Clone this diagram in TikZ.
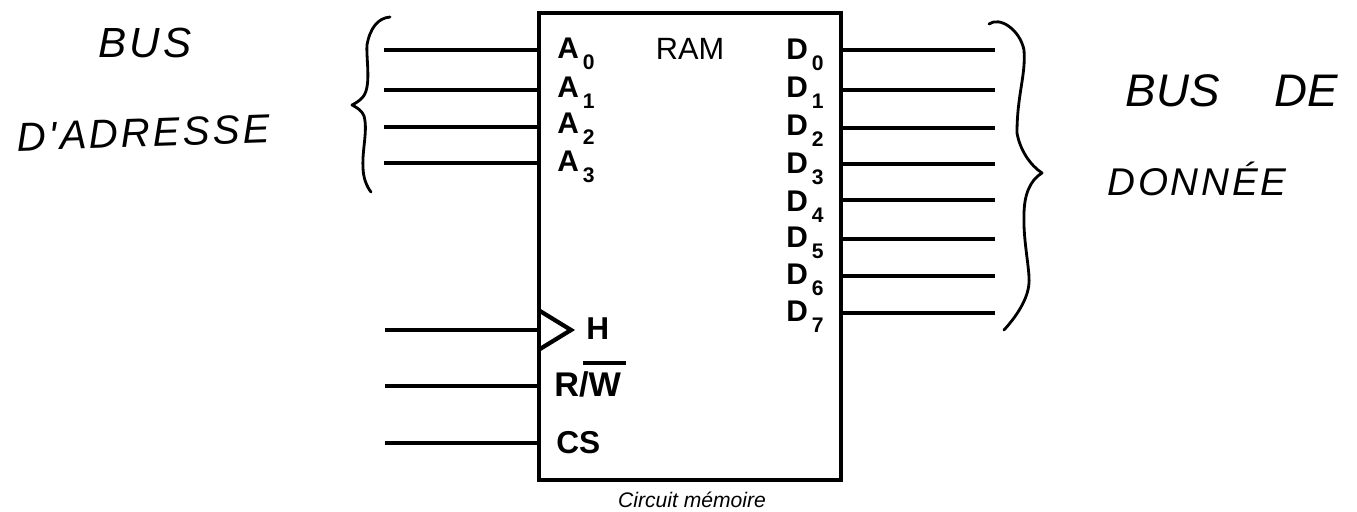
\documentclass[tikz,border=0pt]{standalone}
\usepackage{fontspec}
\setmainfont{Liberation Sans}
\newfontfamily\handfont[LetterSpace=7]{Liberation Sans}
\usepackage{tikz}
\usetikzlibrary{positioning,calc}

\newcommand{\pinsub}[1]{\hspace{2.2pt}\raisebox{-6.8pt}{\fontsize{12}{12}\selectfont #1}}

\tikzset{
  wire/.style={line width=2.8pt},
  thinwire/.style={line width=2pt},
  brace/.style={line width=1.6pt, line cap=round, line join=round},
  pinlabel/.style={anchor=base west, inner sep=0pt, font=\fontsize{17}{18}\selectfont\bfseries},
  ctrllabel/.style={anchor=base west, inner sep=0pt, font=\fontsize{18}{19}\selectfont\bfseries},
  handtext/.style={anchor=base, inner sep=0pt, font=\fontsize{23}{24}\selectfont\handfont\itshape},
}

\begin{document}
\begin{tikzpicture}[x=0.02cm, y=-0.02cm]
  \useasboundingbox (0,0) rectangle (1357,511);

  % Memory box
  \node[draw, line width=2.5pt, minimum width=6.04cm, minimum height=9.34cm, inner sep=0pt] (ram) at (690,246.5) {};
  \node[anchor=base, inner sep=0pt, font=\fontsize{17.5}{18}\selectfont] (title) at (690,59) {RAM};
  \node[anchor=base, inner sep=0pt, font=\fontsize{12}{13}\selectfont\itshape] (caption) at (692,507) {Circuit mémoire};

  % Address pins
  \node[pinlabel] (A0) at (557,58) {A\pinsub{0}};
  \node[pinlabel] (A1) at (557,97) {A\pinsub{1}};
  \node[pinlabel] (A2) at (557,133) {A\pinsub{2}};
  \node[pinlabel] (A3) at (557,171) {A\pinsub{3}};
  \coordinate (a0in) at (384,50);
  \coordinate (a1in) at (384,90);
  \coordinate (a2in) at (384,127);
  \coordinate (a3in) at (384,163);
  \draw[wire] (a0in) -- (a0in -| ram.west);
  \draw[wire] (a1in) -- (a1in -| ram.west);
  \draw[thinwire] (a2in) -- (a2in -| ram.west);
  \draw[thinwire] (a3in) -- (a3in -| ram.west);

  % Data pins
  \node[pinlabel] (D0) at (786,59) {D\pinsub{0}};
  \node[pinlabel] (D1) at (786,97) {D\pinsub{1}};
  \node[pinlabel] (D2) at (786,135) {D\pinsub{2}};
  \node[pinlabel] (D3) at (786,173) {D\pinsub{3}};
  \node[pinlabel] (D4) at (786,211) {D\pinsub{4}};
  \node[pinlabel] (D5) at (786,247) {D\pinsub{5}};
  \node[pinlabel] (D6) at (786,284) {D\pinsub{6}};
  \node[pinlabel] (D7) at (786,321) {D\pinsub{7}};
  \coordinate (d0out) at (995,50);
  \coordinate (d1out) at (995,90);
  \coordinate (d2out) at (995,128);
  \coordinate (d3out) at (995,164);
  \coordinate (d4out) at (995,200);
  \coordinate (d5out) at (995,239);
  \coordinate (d6out) at (995,276);
  \coordinate (d7out) at (995,313);
  \draw[wire] (d0out) -- (d0out -| ram.east);
  \draw[wire] (d1out) -- (d1out -| ram.east);
  \draw[thinwire] (d2out) -- (d2out -| ram.east);
  \draw[thinwire] (d3out) -- (d3out -| ram.east);
  \draw[wire] (d4out) -- (d4out -| ram.east);
  \draw[thinwire] (d5out) -- (d5out -| ram.east);
  \draw[wire] (d6out) -- (d6out -| ram.east);
  \draw[thinwire] (d7out) -- (d7out -| ram.east);

  % Control pins
  \node[ctrllabel] (H) at (586,339) {H};
  \node[ctrllabel, font=\fontsize{19.5}{20}\selectfont\bfseries] (RW) at (554,396) {R/W};
  \node[ctrllabel] (CS) at (556,453) {CS};
  \coordinate (hin) at (385,330);
  \coordinate (rwin) at (385,386);
  \coordinate (csin) at (385,443);
  \draw[wire] (hin) -- (hin -| ram.west);
  \draw[wire] (rwin) -- (rwin -| ram.west);
  \draw[wire] (csin) -- (csin -| ram.west);
  \draw[line width=2.4pt] (540,311) -- (571,330) -- (540,349);
  \draw[line width=2.6pt] (583,363) -- (626,363);

  % Hand drawn braces
  \draw[brace] (390,17) .. controls (378,18) and (370,28) .. (367,45)
    .. controls (366,60) and (372,88) .. (362,98)
    .. controls (359,101) and (356,103) .. (352,105)
    .. controls (358,108) and (362,111) .. (364,116)
    .. controls (368,130) and (362,150) .. (363,167)
    .. controls (363,178) and (367,187) .. (371,192);
  \draw[brace] (989,24) .. controls (1000,16) and (1020,30) .. (1024,50)
    .. controls (1026,75) and (1017,95) .. (1017,133)
    .. controls (1020,150) and (1030,165) .. (1042,173)
    .. controls (1030,180) and (1024,195) .. (1024,215)
    .. controls (1023,240) and (1030,270) .. (1029,283)
    .. controls (1028,300) and (1015,318) .. (1004,330);

  % Hand written labels
  \node[handtext, font=\fontsize{24}{25}\selectfont\handfont\itshape] (busaddr) at (145,57) {BUS};
  \node[handtext, rotate=2] (adresse) at (144,147) {D'ADRESSE};
  \node[handtext, font=\fontsize{26}{27}\selectfont\itshape] (busdata) at (1232,106) {BUS\hspace{1.2em}DE};
  \node[handtext, font=\fontsize{22}{23}\selectfont\handfont\itshape] (donnee) at (1197,195) {DONNÉE};
\end{tikzpicture}
\end{document}
